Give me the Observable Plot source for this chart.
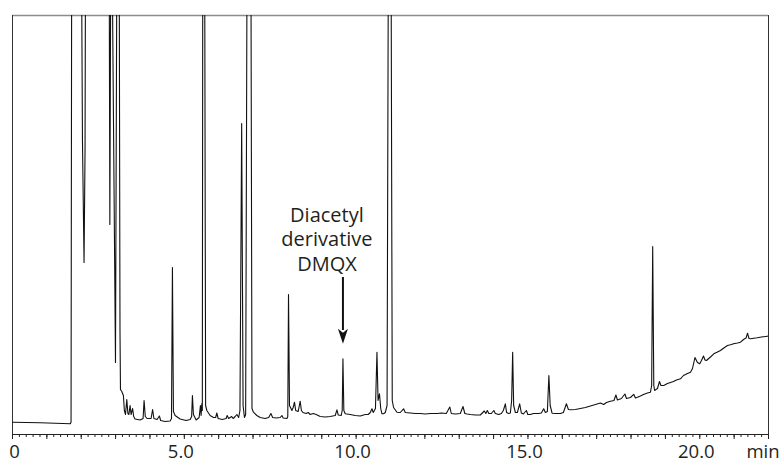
<!DOCTYPE html>
<html>
<head>
<meta charset="utf-8">
<script src="https://cdn.jsdelivr.net/npm/d3@7"></script>
<script src="https://cdn.jsdelivr.net/npm/@observablehq/plot@0.6"></script>
<style>
  html, body { margin: 0; padding: 0; background: #fff; }
  svg { display: block; }
</style>
</head>
<body>
<div id="chart"></div>
<script>
// Retention time (min) and detector signal (arbitrary units; full scale = 41.9, values > 41.9 are off-scale)
const timeMin = [
  0, 0.801, 1.683, 1.704, 1.721, 2.012, 2.036, 2.082, 2.111, 2.123,
  2.816, 2.833, 2.857, 2.906, 2.997, 3.034, 3.107, 3.128, 3.142, 3.180,
  3.227, 3.256, 3.288, 3.326, 3.358, 3.387, 3.422, 3.451, 3.495, 3.527,
  3.567, 3.713, 3.800, 3.829, 3.864, 3.917, 4.033, 4.077, 4.115, 4.208,
  4.275, 4.310, 4.441, 4.587, 4.627, 4.654, 4.683, 4.732, 4.878, 5.052,
  5.169, 5.213, 5.236, 5.265, 5.344, 5.431, 5.469, 5.489, 5.510, 5.524,
  5.536, 5.594, 5.620, 5.655, 5.751, 5.848, 5.912, 5.946, 5.984, 6.101,
  6.217, 6.247, 6.290, 6.378, 6.421, 6.479, 6.529, 6.581, 6.619, 6.669,
  6.710, 6.750, 6.785, 6.823, 6.940, 6.969, 7.012, 7.111, 7.207, 7.353,
  7.455, 7.519, 7.571, 7.673, 7.790, 7.839, 7.877, 7.985, 8.011, 8.032,
  8.061, 8.131, 8.168, 8.206, 8.241, 8.314, 8.372, 8.407, 8.451, 8.547,
  8.605, 8.663, 8.751, 8.838, 8.955, 9.100, 9.246, 9.392, 9.441, 9.479,
  9.566, 9.595, 9.616, 9.642, 9.683, 9.828, 9.974, 10.120, 10.265, 10.352,
  10.411, 10.460, 10.498, 10.562, 10.606, 10.638, 10.679, 10.716, 10.751, 10.798,
  10.848, 10.900, 10.935, 11.019, 11.051, 11.089, 11.188, 11.284, 11.381, 11.430,
  11.576, 11.721, 11.867, 12.012, 12.158, 12.362, 12.479, 12.624, 12.726, 12.770,
  12.886, 13.032, 13.110, 13.163, 13.236, 13.323, 13.468, 13.614, 13.687, 13.730,
  13.774, 13.818, 13.862, 13.935, 14.007, 14.051, 14.147, 14.226, 14.284, 14.342,
  14.378, 14.438, 14.488, 14.525, 14.555, 14.584, 14.634, 14.692, 14.759, 14.808,
  14.867, 14.954, 14.997, 15.070, 15.158, 15.303, 15.390, 15.458, 15.507, 15.565,
  15.609, 15.647, 15.702, 15.798, 15.944, 16.031, 16.119, 16.177, 16.235, 16.381,
  16.526, 16.672, 16.817, 16.963, 17.109, 17.205, 17.283, 17.399, 17.502, 17.560,
  17.604, 17.720, 17.822, 17.866, 17.982, 18.078, 18.128, 18.186, 18.273, 18.361,
  18.477, 18.565, 18.600, 18.630, 18.662, 18.686, 18.725, 18.769, 18.827, 18.870,
  18.952, 19.060, 19.148, 19.235, 19.322, 19.438, 19.526, 19.642, 19.730, 19.788,
  19.860, 19.933, 20.000, 20.050, 20.108, 20.152, 20.195, 20.312, 20.408, 20.516,
  20.603, 20.720, 20.807, 20.924, 20.982, 21.098, 21.186, 21.273, 21.346, 21.390,
  21.433, 21.477, 21.672, 21.797, 21.963, 22.000
];
const signal = [
  1.23, 1.18, 1.08, 1.25, 45, 45, 29.4, 17.2, 28.4, 45,
  45, 21.0, 45, 45, 7.2, 45, 45, 10.4, 4.5, 4.3,
  3.9, 2.4, 2.0, 3.5, 2.1, 2.0, 2.9, 2.0, 2.6, 1.8,
  1.55, 1.45, 1.6, 3.4, 1.8, 1.6, 1.6, 2.5, 1.6, 1.5,
  1.85, 1.4, 1.3, 1.35, 1.6, 16.7, 2.3, 1.9, 1.55, 1.4,
  1.5, 1.8, 3.9, 2.0, 1.45, 1.7, 2.9, 1.9, 3.1, 2.4,
  45, 45, 2.9, 2.4, 1.9, 1.7, 1.7, 2.15, 1.6, 1.5,
  1.6, 1.9, 1.6, 1.8, 1.6, 1.8, 2.0, 1.7, 2.4, 31.1,
  2.9, 1.7, 2.0, 45, 45, 2.6, 2.23, 1.9, 1.7, 1.6,
  1.7, 2.1, 1.7, 1.65, 1.7, 1.9, 1.65, 1.6, 1.8, 14.0,
  2.9, 2.4, 2.7, 3.23, 2.4, 2.3, 3.33, 2.4, 2.2, 2.1,
  2.2, 2.0, 2.1, 2.0, 1.8, 1.75, 1.8, 1.9, 2.47, 1.95,
  1.9, 2.4, 7.57, 2.4, 2.07, 2.0, 1.9, 1.85, 2.0, 2.0,
  2.2, 2.57, 2.2, 2.6, 8.23, 3.4, 4.07, 2.6, 2.07, 2.07,
  2.2, 2.9, 45, 45, 3.4, 2.7, 2.23, 2.2, 2.57, 2.2,
  2.15, 2.1, 2.1, 2.05, 2.1, 2.1, 2.15, 2.1, 2.75, 2.1,
  2.05, 2.1, 2.8, 2.1, 2.05, 2.0, 1.95, 1.95, 2.2, 2.35,
  2.1, 2.4, 2.1, 2.1, 2.4, 2.1, 2.0, 2.1, 2.4, 3.07,
  2.2, 2.1, 2.15, 3.4, 8.23, 2.9, 2.2, 2.2, 3.07, 2.15,
  2.05, 2.4, 2.0, 2.0, 2.1, 2.1, 2.15, 2.57, 2.2, 2.3,
  5.9, 2.9, 2.13, 2.1, 2.1, 2.2, 3.07, 2.5, 2.47, 2.5,
  2.6, 2.7, 2.85, 3.0, 3.15, 3.0, 3.2, 3.33, 3.4, 3.95,
  3.45, 3.6, 4.05, 3.6, 3.7, 4.02, 3.65, 3.73, 3.85, 4.0,
  4.15, 4.23, 4.9, 18.8, 4.9, 4.4, 4.5, 4.6, 5.3, 4.9,
  4.9, 5.1, 5.2, 5.3, 5.45, 5.57, 5.9, 6.1, 6.23, 6.6,
  7.7, 7.2, 7.07, 7.4, 7.85, 7.45, 7.4, 7.75, 8.07, 8.25,
  8.4, 8.7, 8.9, 9.0, 9.07, 9.15, 9.23, 9.5, 9.65, 10.13,
  9.6, 9.57, 9.67, 9.75, 9.83, 9.85
];

// Axis
const tickValues = [0, 5, 10, 15, 20];
const tickLabels = ["0", "5.0", "10.0", "15.0", "20.0"];
const unitLabel = "min";
const timeMax = 22;
const signalFullScale = 41.9;

// Annotation
const annotationLines = ["Diacetyl", "derivative", "DMQX"];
const annotationTime = 9.15;
const annotationTopSignal = 21.94;
const annotationLineStep = 2.45;
const dmqxTime = 9.616;
const arrowFromSignal = 15.7;
const arrowShaftEnd = 10.4;
const arrowTipSignal = 9.07;

const trace = timeMin.map((t, i) => ({time: t, signal: signal[i]}));
const minorTicks = d3.range(0, timeMax * 5 + 1).map(i => i / 5);
const majorTicks = d3.range(0, timeMax + 1);

const arrowHead = {
  draw(ctx) {
    ctx.moveTo(0, 0);
    ctx.lineTo(-5, -15);
    ctx.lineTo(0, -11);
    ctx.lineTo(5, -15);
    ctx.closePath();
  }
};

const ink = "#231f20";

const chart = Plot.plot({
  width: 781,
  height: 462,
  marginLeft: 12,
  marginRight: 13,
  marginTop: 15,
  marginBottom: 28,
  style: {fontFamily: "'Open Sans', sans-serif", fontSize: "18.5px", color: ink, background: "#fff", overflow: "visible"},
  x: {domain: [0, timeMax], label: null},
  y: {domain: [0, signalFullScale], axis: null, label: null},
  marks: [
    Plot.ruleY([signalFullScale], {stroke: "#8c8c8c", strokeWidth: 1.6}),
    Plot.ruleX([0, timeMax], {stroke: "#333", strokeWidth: 1}),
    Plot.line(trace, {x: "time", y: "signal", stroke: "#111", strokeWidth: 1.1, clip: true}),
    Plot.ruleY([0], {stroke: "#222", strokeWidth: 1}),
    Plot.axisX(minorTicks, {tickSize: 3, text: null, stroke: "#222"}),
    Plot.axisX(majorTicks, {tickSize: 5, text: null, stroke: "#222"}),
    Plot.text(tickValues.slice(0, 1), {x: d => d, text: (d, i) => tickLabels[i], frameAnchor: "bottom", lineAnchor: "top", dy: 10, dx: 2, fill: ink}),
    Plot.text(tickValues.slice(1), {x: d => d, text: (d, i) => tickLabels[i + 1], frameAnchor: "bottom", lineAnchor: "top", dy: 10, dx: -3.5, fill: ink}),
    Plot.text([unitLabel], {x: timeMax, text: d => d, frameAnchor: "bottom", lineAnchor: "top", dy: 10, dx: -5.5, fill: ink}),
    Plot.text(annotationLines, {x: annotationTime, y: (d, i) => annotationTopSignal - i * annotationLineStep, text: d => d, fontSize: 20, fill: ink}),
    Plot.ruleX([dmqxTime], {x: d => d, y1: arrowFromSignal, y2: arrowShaftEnd, stroke: "#111", strokeWidth: 2}),
    Plot.dot([dmqxTime], {x: d => d, y: arrowTipSignal, symbol: arrowHead, fill: "#111", stroke: "none", r: 5})
  ]
});

document.getElementById("chart").appendChild(chart);
</script>
</body>
</html>
